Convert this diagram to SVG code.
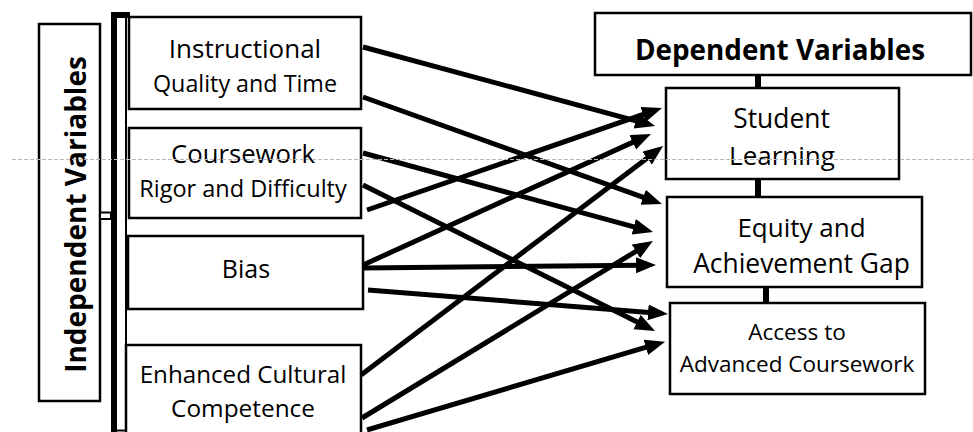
<svg xmlns="http://www.w3.org/2000/svg" width="973" height="432" viewBox="0 0 973 432">
<style>
.box{fill:#fff;stroke:#000;stroke-width:2.5}
.t{font-family:"Open Sans","Noto Sans",sans-serif;fill:#000;text-anchor:middle}
.b{font-weight:bold}
.arr{stroke:#000;stroke-width:5;fill:none;marker-end:url(#ah)}
.vl{stroke:#000;stroke-width:6}
</style>
<defs>
<marker id="ah" markerUnits="userSpaceOnUse" markerWidth="22" markerHeight="18" refX="4" refY="8" orient="auto" viewBox="0 0 22 18">
<path d="M0,0 L20,8 L0,16 Z" fill="#000"/>
</marker>
</defs>
<rect width="973" height="432" fill="#fff"/>

<g id="independent">
<rect class="box" x="39" y="24" width="61" height="377"/>
<text class="t b" font-size="28" transform="translate(86,214.5) rotate(-90)">Independent Variables</text>
</g>

<g id="bracket">
<rect x="100" y="212.5" width="11" height="6.5" fill="#fff" stroke="#000" stroke-width="2"/>
<rect x="111" y="12" width="6" height="420" fill="#000"/>
<rect x="111" y="12" width="19" height="6" fill="#000"/>
<line x1="126" y1="18" x2="126" y2="432" stroke="#000" stroke-width="2"/>
<line x1="111" y1="430.5" x2="129" y2="430.5" stroke="#000" stroke-width="2"/>
</g>

<g id="instructional">
<rect class="box" x="129" y="17" width="232" height="92"/>
<text class="t" x="245" y="58" font-size="26">Instructional</text>
<text class="t" x="245" y="92" font-size="23.3">Quality and Time</text>
</g>

<g id="coursework">
<rect class="box" x="129" y="128" width="232" height="90"/>
<text class="t" x="243" y="163" font-size="25.7">Coursework</text>
<text class="t" x="243" y="197" font-size="23.5">Rigor and Difficulty</text>
</g>

<g id="bias">
<rect class="box" x="128" y="236" width="235" height="73"/>
<text class="t" x="246" y="278" font-size="25">Bias</text>
</g>

<g id="cultural">
<rect class="box" x="126" y="345" width="235" height="100"/>
<text class="t" x="243" y="383" font-size="24.2">Enhanced Cultural</text>
<text class="t" x="243" y="417" font-size="24.4">Competence</text>
</g>

<g id="dependent">
<rect class="box" x="595" y="13" width="376" height="62"/>
<text class="t b" x="780" y="60" font-size="27.8">Dependent Variables</text>
</g>

<g id="student-learning">
<rect class="box" x="666" y="88" width="233" height="91"/>
<text class="t" x="781.5" y="128" font-size="26.4">Student</text>
<text class="t" x="782" y="165" font-size="26">Learning</text>
</g>

<g id="equity">
<rect class="box" x="667" y="197" width="255" height="90"/>
<text class="t" x="801.5" y="237" font-size="26">Equity and</text>
<text class="t" x="801.5" y="273" font-size="26.4">Achievement Gap</text>
</g>

<g id="access">
<rect class="box" x="670" y="303" width="255" height="91"/>
<text class="t" x="797" y="340" font-size="22.6">Access to</text>
<text class="t" x="797" y="372" font-size="22.5">Advanced Coursework</text>
</g>

<g id="connectors">
<line class="vl" x1="758" y1="75" x2="758" y2="88"/>
<line class="vl" x1="758" y1="179" x2="758" y2="197"/>
<line class="vl" x1="766" y1="287" x2="766" y2="303"/>
<line class="arr" x1="363" y1="47" x2="639.6" y2="121.8"/>
<line class="arr" x1="363" y1="97" x2="646.9" y2="198.6"/>
<line class="arr" x1="363" y1="153" x2="637.6" y2="227.8"/>
<line class="arr" x1="363" y1="185" x2="640.7" y2="323.8"/>
<line class="arr" x1="367" y1="210" x2="646.9" y2="113.2"/>
<line class="arr" x1="363" y1="265" x2="636.4" y2="140.6"/>
<line class="arr" x1="363" y1="268" x2="640" y2="265.2"/>
<line class="arr" x1="368" y1="290" x2="652" y2="312.7"/>
<line class="arr" x1="361" y1="375" x2="650.3" y2="155.7"/>
<line class="arr" x1="362" y1="418" x2="639.3" y2="249.3"/>
<line class="arr" x1="367" y1="430" x2="649.7" y2="346.2"/>
</g>

<line x1="12" y1="159.5" x2="973" y2="159.5" stroke="#b8b8b8" stroke-width="1" stroke-dasharray="4 2"/>
</svg>
